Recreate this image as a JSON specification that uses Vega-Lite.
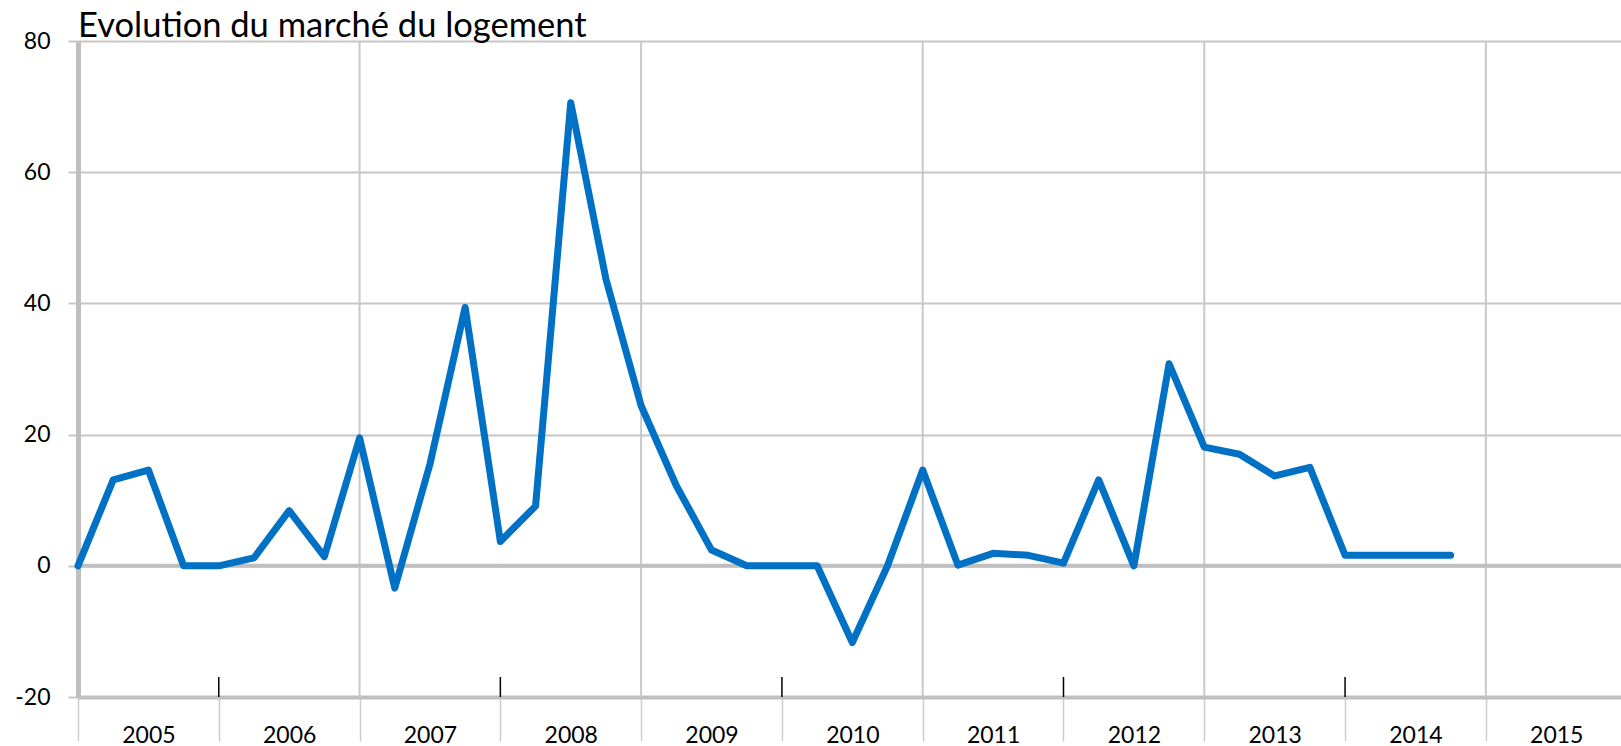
{
  "$schema": "https://vega.github.io/schema/vega-lite/v6.json",
  "autosize": {"type": "none"},
  "padding": {"left": 78, "top": 41, "right": 0, "bottom": 49},
  "width": 1543,
  "height": 656,
  "background": "white",
  "title": {
    "text": "Evolution du marché du logement",
    "anchor": "start",
    "frame": "group",
    "font": "Lato",
    "fontSize": 34.5,
    "fontWeight": "normal",
    "color": "#000000",
    "baseline": "alphabetic",
    "offset": 6,
    "dy": 47
  },
  "config": {
    "view": {"stroke": null},
    "font": "Lato"
  },
  "datasets": {
    "series": [
      {"t": 2005.00, "v": 0},
      {"t": 2005.25, "v": 13.1},
      {"t": 2005.50, "v": 14.6},
      {"t": 2005.75, "v": 0},
      {"t": 2006.00, "v": 0},
      {"t": 2006.25, "v": 1.2},
      {"t": 2006.50, "v": 8.4},
      {"t": 2006.75, "v": 1.4},
      {"t": 2007.00, "v": 19.5},
      {"t": 2007.25, "v": -3.4},
      {"t": 2007.50, "v": 15.5},
      {"t": 2007.75, "v": 39.4},
      {"t": 2008.00, "v": 3.7},
      {"t": 2008.25, "v": 9.1},
      {"t": 2008.50, "v": 70.6},
      {"t": 2008.75, "v": 43.7},
      {"t": 2009.00, "v": 24.4},
      {"t": 2009.25, "v": 12.2},
      {"t": 2009.50, "v": 2.4},
      {"t": 2009.75, "v": 0},
      {"t": 2010.00, "v": 0},
      {"t": 2010.25, "v": 0},
      {"t": 2010.50, "v": -11.7},
      {"t": 2010.75, "v": 0},
      {"t": 2011.00, "v": 14.6},
      {"t": 2011.25, "v": 0.1},
      {"t": 2011.50, "v": 1.9},
      {"t": 2011.75, "v": 1.6},
      {"t": 2012.00, "v": 0.4},
      {"t": 2012.25, "v": 13.1},
      {"t": 2012.50, "v": 0},
      {"t": 2012.75, "v": 30.8},
      {"t": 2013.00, "v": 18.1},
      {"t": 2013.25, "v": 17.0},
      {"t": 2013.50, "v": 13.7},
      {"t": 2013.75, "v": 15.0},
      {"t": 2014.00, "v": 1.6},
      {"t": 2014.25, "v": 1.6},
      {"t": 2014.50, "v": 1.6},
      {"t": 2014.75, "v": 1.6}
    ],
    "gridYears": [
      {"t": 2007}, {"t": 2009}, {"t": 2011}, {"t": 2013}, {"t": 2015}
    ],
    "tickYears": [
      {"t": 2006}, {"t": 2008}, {"t": 2010}, {"t": 2012}, {"t": 2014}
    ],
    "zero": [{"v": 0}]
  },
  "layer": [
    {
      "data": {"name": "gridYears"},
      "mark": {"type": "rule", "color": "#c8c8c8", "strokeWidth": 2},
      "encoding": {
        "x": {
          "field": "t",
          "type": "quantitative",
          "scale": {"domain": [2005, 2015.96], "nice": false, "zero": false},
          "axis": {
            "title": null,
            "values": [2005, 2006, 2007, 2008, 2009, 2010, 2011, 2012, 2013, 2014, 2015],
            "format": "d",
            "grid": false,
            "domainColor": "#bfbfbf",
            "domainWidth": 4,
            "tickColor": "#cccccc",
            "tickWidth": 1.5,
            "tickSize": 44,
            "labelOffset": 70.4,
            "labelPadding": 1,
            "labelBaseline": "alphabetic",
            "labelFontSize": 23,
            "labelColor": "#000000",
            "labelFont": "Lato",
            "labelFlush": false,
            "labelOverlap": false,
            "labelBound": false
          }
        },
        "y": {
          "datum": -20,
          "type": "quantitative",
          "scale": {"domain": [-20, 80], "nice": false},
          "axis": {
            "title": null,
            "values": [-20, 0, 20, 40, 60, 80],
            "labelExpr": "'' + datum.value",
            "grid": true,
            "gridColor": "#c6c6c6",
            "gridWidth": 2,
            "domainColor": "#bfbfbf",
            "domainWidth": 5,
            "tickColor": "#c6c6c6",
            "tickWidth": 2,
            "tickSize": 10,
            "labelPadding": 18,
            "labelFontSize": 23,
            "labelColor": "#000000",
            "labelFont": "Lato",
            "labelFlush": false,
            "labelOverlap": false,
            "labelBound": false
          }
        },
        "y2": {"datum": 80}
      }
    },
    {
      "data": {"name": "tickYears"},
      "mark": {"type": "rule", "color": "#000000", "strokeWidth": 1.5},
      "encoding": {
        "x": {"field": "t", "type": "quantitative"},
        "y": {"datum": -20, "type": "quantitative"},
        "y2": {"datum": -16.95}
      }
    },
    {
      "data": {"name": "zero"},
      "mark": {"type": "rule", "color": "#bfbfbf", "strokeWidth": 4},
      "encoding": {
        "y": {"field": "v", "type": "quantitative"}
      }
    },
    {
      "data": {"name": "series"},
      "mark": {"type": "line", "color": "#0071c5", "strokeWidth": 7, "strokeCap": "round", "strokeJoin": "round"},
      "encoding": {
        "x": {"field": "t", "type": "quantitative"},
        "y": {"field": "v", "type": "quantitative"}
      }
    }
  ]
}
